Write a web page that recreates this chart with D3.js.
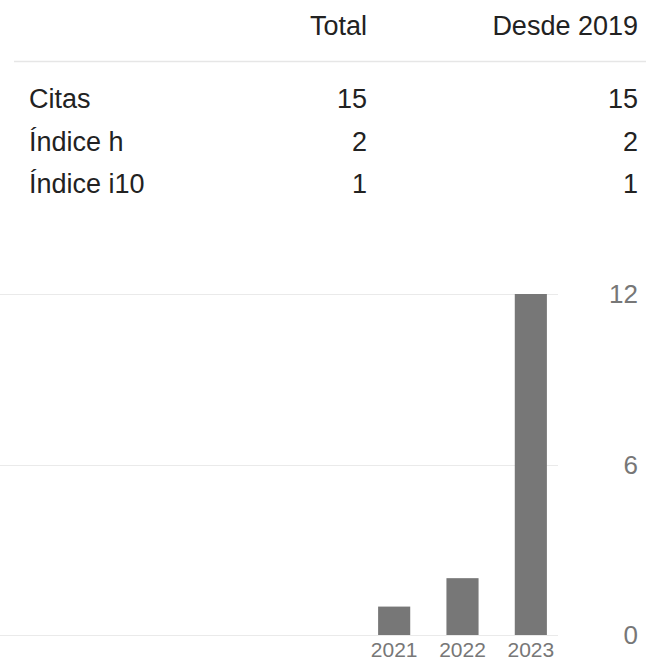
<!DOCTYPE html>
<html>
<head>
<meta charset="utf-8">
<script src="https://cdn.jsdelivr.net/npm/d3@7"></script>
<style>
  body { margin: 0; background: #fff; }
  svg { display: block; font-family: "Liberation Sans", Arial, Helvetica, sans-serif; }
</style>
</head>
<body>
<svg width="646" height="662"></svg>
<script>
// ---- data ----
const headers = ['Total', 'Desde 2019'];
const metrics = ['Citas', 'Índice h', 'Índice i10'];
const totalVals = [15, 2, 1];
const sinceVals = [15, 2, 1];

const years = ['2021', '2022', '2023'];
const citations = [1, 2, 12];
const yTicks = [0, 6, 12];

const svg = d3.select('svg');

//  stats table
const table = svg.append('g').attr('id', 'table');
const colX = [367, 638];

table.selectAll('text.head')
    .data(headers)
    .join('text')
    .attr('class', 'head')
    .attr('x', (d, i) => colX[i])
    .attr('y', 35)
    .attr('text-anchor', 'end')
    .attr('font-size', 27)
    .attr('fill', '#222')
    .text(d => d);

table.append('line')
    .attr('x1', 14).attr('x2', 646)
    .attr('y1', 61.5).attr('y2', 61.5)
    .attr('stroke', '#e6e6e6')
    .attr('stroke-width', 1.5);

const rowY = d3.scalePoint().domain(metrics).range([108, 193]);

const rows = table.selectAll('g.row')
    .data(metrics)
    .join('g')
    .attr('class', 'row')
    .attr('transform', d => `translate(0,${rowY(d)})`);

rows.append('text')
    .attr('x', 29)
    .attr('font-size', 27)
    .attr('fill', '#222')
    .text(d => d);
rows.append('text')
    .attr('x', colX[0])
    .attr('text-anchor', 'end')
    .attr('font-size', 27)
    .attr('fill', '#222')
    .text((d, i) => totalVals[i]);
rows.append('text')
    .attr('x', colX[1])
    .attr('text-anchor', 'end')
    .attr('font-size', 27)
    .attr('fill', '#222')
    .text((d, i) => sinceVals[i]);

//  bar chart
const chart = svg.append('g').attr('id', 'chart');

const y = d3.scaleLinear().domain([0, 12]).range([635, 294]);
const x = d3.scaleBand().domain(years).range([360, 565])
    .paddingInner(0.53).paddingOuter(0.265);

chart.selectAll('line.grid')
    .data(yTicks)
    .join('line')
    .attr('class', 'grid')
    .attr('x1', 0).attr('x2', 558)
    .attr('y1', d => Math.round(y(d)) + 0.5)
    .attr('y2', d => Math.round(y(d)) + 0.5)
    .attr('stroke', '#eaeaea')
    .attr('stroke-width', 1);

chart.selectAll('text.ytick')
    .data(yTicks)
    .join('text')
    .attr('class', 'ytick')
    .attr('x', 638)
    .attr('y', d => y(d) + 9)
    .attr('text-anchor', 'end')
    .attr('font-size', 26)
    .attr('fill', '#777')
    .text(d => d);

chart.selectAll('rect.bar')
    .data(years)
    .join('rect')
    .attr('class', 'bar')
    .attr('x', d => x(d))
    .attr('width', x.bandwidth())
    .attr('y', (d, i) => y(citations[i]))
    .attr('height', (d, i) => y(0) - y(citations[i]))
    .attr('fill', '#777');

chart.selectAll('text.xtick')
    .data(years)
    .join('text')
    .attr('class', 'xtick')
    .attr('x', d => x(d) + x.bandwidth() / 2)
    .attr('y', 657)
    .attr('text-anchor', 'middle')
    .attr('font-size', 21)
    .attr('fill', '#777')
    .text(d => d);
</script>
</body>
</html>
